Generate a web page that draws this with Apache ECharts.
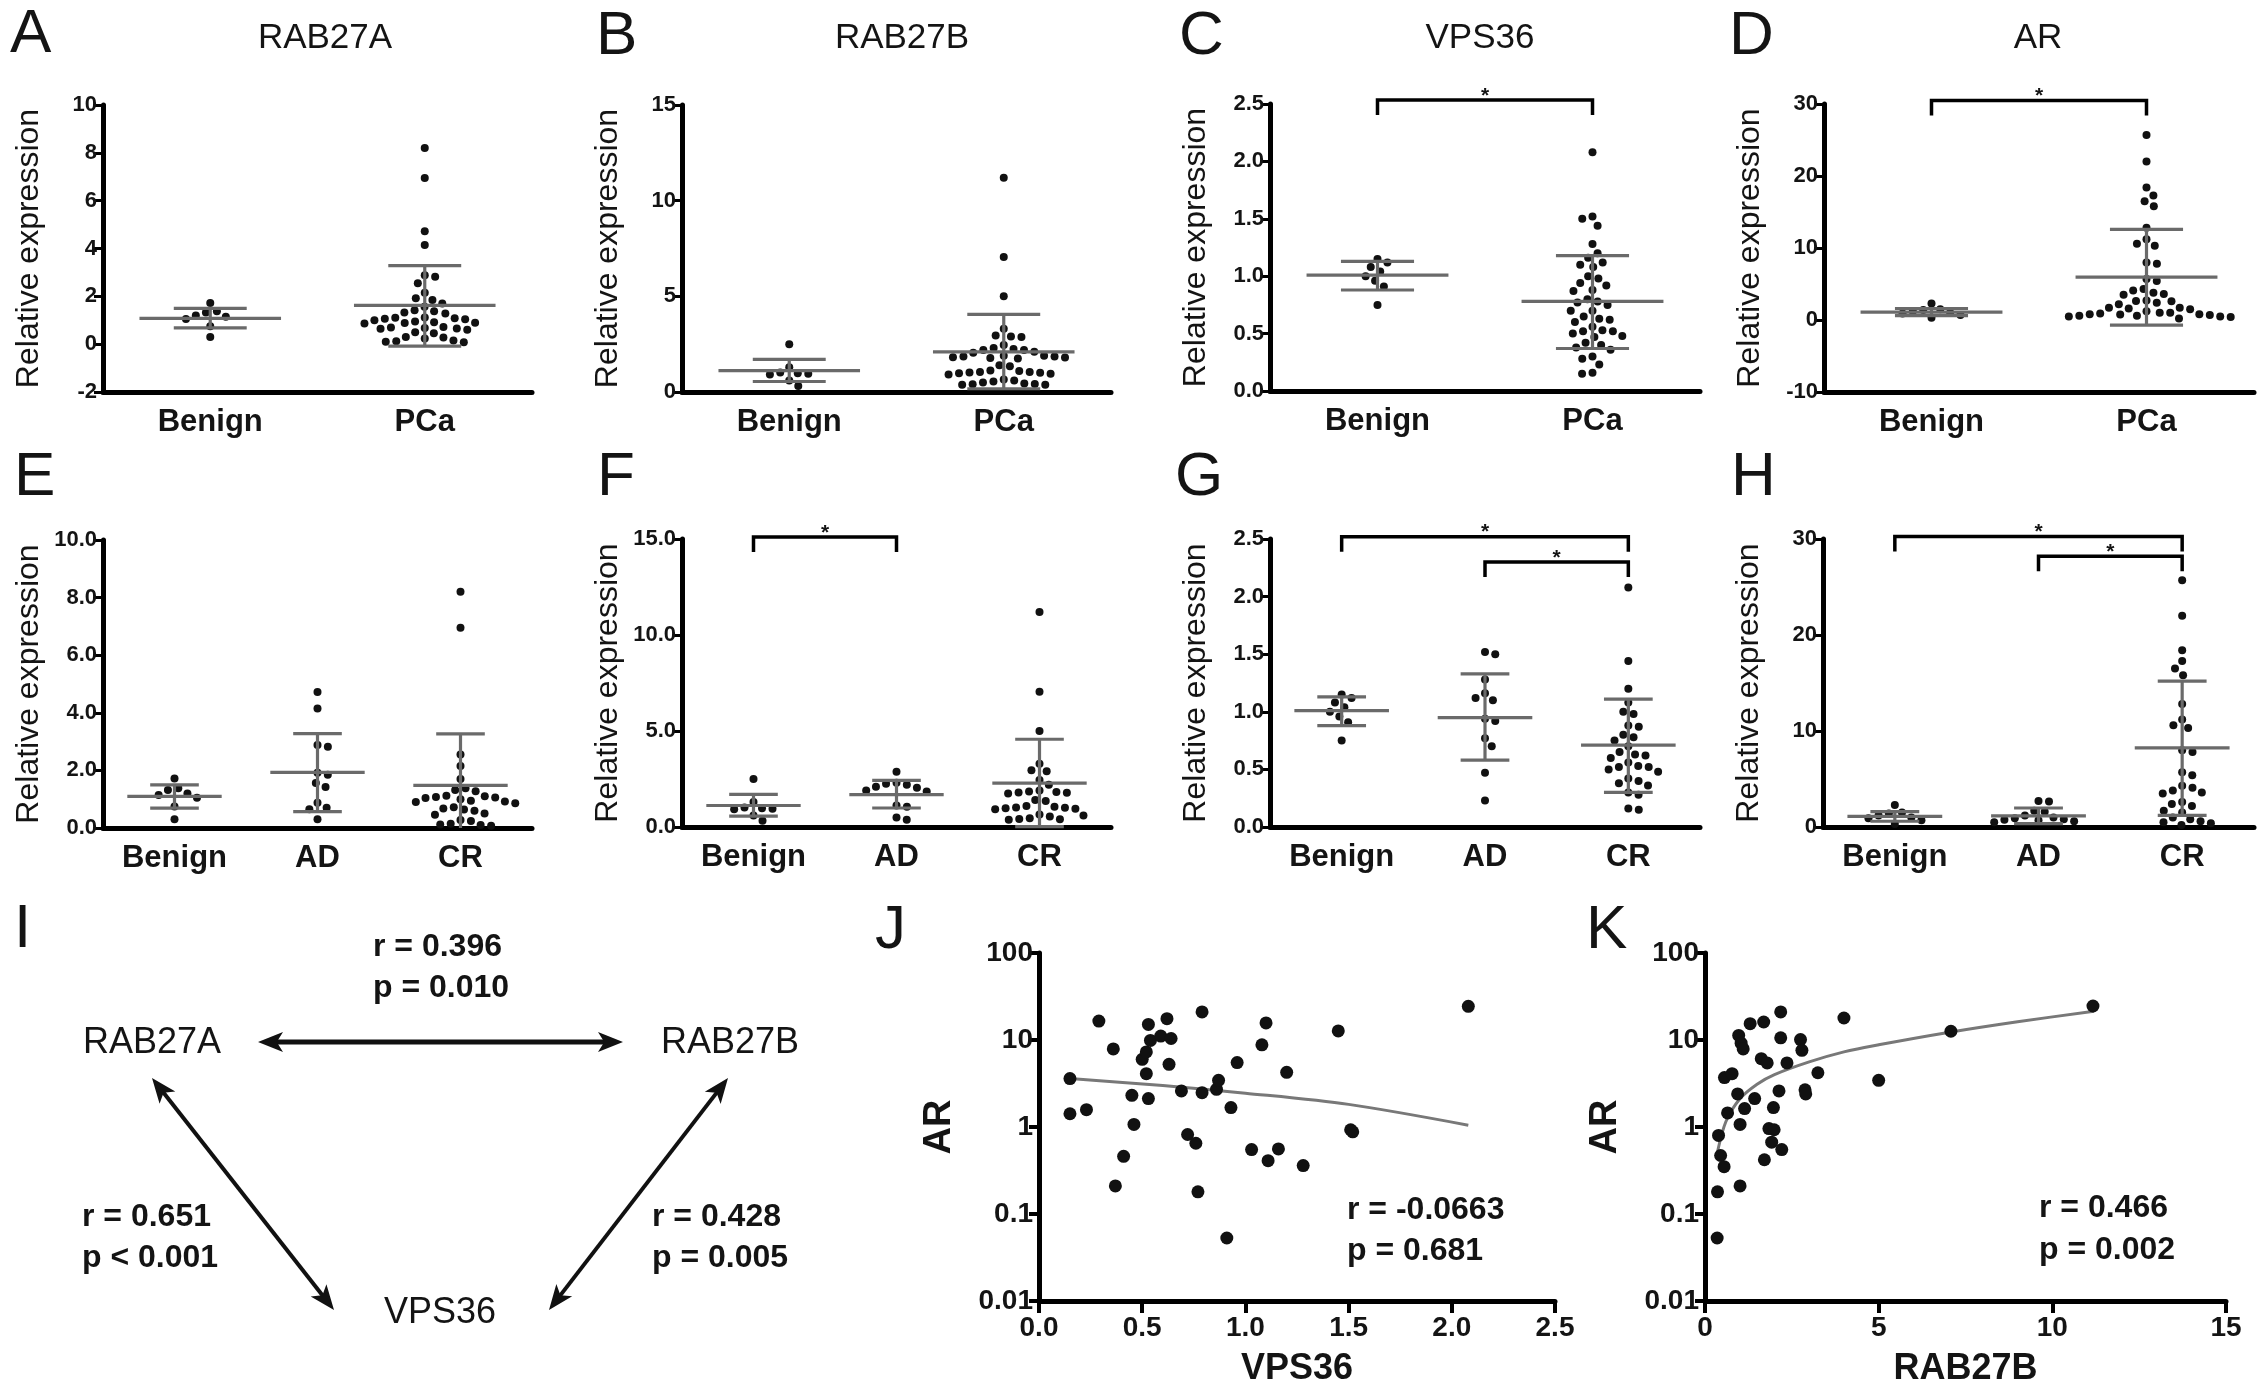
<!DOCTYPE html>
<html><head><meta charset="utf-8">
<script src="https://cdn.jsdelivr.net/npm/echarts@6/dist/echarts.min.js"></script>
<style>html,body{margin:0;padding:0;background:#fff}#c{width:2268px;height:1400px}</style>
</head><body><div id="c"></div><script>
// ---------------- DATA ----------------
const CAT2 = ['Benign', 'PCa'];
const CAT3 = ['Benign', 'AD', 'CR'];
const geneTitles = ['RAB27A', 'RAB27B', 'VPS36', 'AR'];
const panelLetters = ['A','B','C','D','E','F','G','H','I','J','K'];

const rab27aBenign = [1.72, 1.38, 1.32, 1.2, 1.15, 1.05, 0.75, 0.3];
const rab27aAD = [4.72, 4.15, 2.88, 2.82, 1.92, 1.85, 1.56, 1.42, 0.88, 0.7, 0.65, 0.3];
const rab27aCR = [8.2, 6.95, 2.55, 2.15, 1.7, 1.38, 1.32, 1.28, 1.12, 1.1, 1.08, 1.06, 1.04, 1.0, 0.95, 0.92, 0.9, 0.86, 0.72, 0.68, 0.64, 0.6, 0.5, 0.46, 0.28, 0.24, 0.15, 0.12, 0.1, 0.08];
const rab27aMean2 = [1.08, 1.62], rab27aLow2 = [0.68, -0.08], rab27aHigh2 = [1.5, 3.28];
const rab27aMean3 = [1.1, 1.93, 1.48], rab27aLow3 = [0.69, 0.57, -0.3], rab27aHigh3 = [1.5, 3.28, 3.27];

const rab27bBenign = [2.5, 1.3, 1.02, 0.98, 0.95, 0.92, 0.6, 0.32];
const rab27bAD = [2.88, 2.3, 2.25, 2.2, 2.1, 2.05, 1.9, 1.85, 1.12, 1.05, 0.5, 0.38];
const rab27bCR = [11.2, 7.05, 5.0, 3.3, 2.95, 2.9, 2.45, 2.2, 1.9, 1.85, 1.82, 1.8, 1.78, 1.75, 1.4, 1.35, 1.1, 1.05, 1.02, 1.0, 0.98, 0.95, 0.92, 0.65, 0.6, 0.55, 0.45, 0.42, 0.4, 0.38];
const rab27bMean2 = [1.12, 2.1], rab27bLow2 = [0.55, 0.17], rab27bHigh2 = [1.7, 4.06];
const rab27bMean3 = [1.12, 1.69, 2.29], rab27bLow3 = [0.57, 0.99, 0.02], rab27bHigh3 = [1.7, 2.43, 4.57];

const vps36Benign = [1.15, 1.12, 1.08, 1.04, 1.0, 0.96, 0.91, 0.75];
const vps36AD = [1.52, 1.5, 1.28, 1.16, 1.12, 1.1, 0.94, 0.92, 0.77, 0.7, 0.47, 0.23];
const vps36CR = [2.08, 1.44, 1.2, 1.08, 1.0, 0.98, 0.88, 0.87, 0.8, 0.78, 0.75, 0.7, 0.65, 0.63, 0.62, 0.6, 0.56, 0.53, 0.52, 0.52, 0.5, 0.48, 0.42, 0.4, 0.38, 0.36, 0.3, 0.28, 0.16, 0.15];
const vps36Mean2 = [1.01, 0.78], vps36Low2 = [0.88, 0.37], vps36High2 = [1.13, 1.18];
const vps36Mean3 = [1.01, 0.95, 0.71], vps36Low3 = [0.88, 0.58, 0.30], vps36High3 = [1.13, 1.33, 1.11];

const arBenign = [2.3, 1.5, 1.4, 1.2, 1.0, 0.9, 0.7, 0.3];
const arAD = [2.7, 2.65, 1.7, 1.6, 1.2, 1.0, 0.9, 0.8, 0.75, 0.7, 0.6, 0.5];
const arCR = [25.7, 22.0, 18.4, 17.3, 16.5, 15.8, 12.8, 11.2, 10.6, 10.3, 8.0, 7.8, 5.7, 5.4, 4.3, 4.1, 3.8, 3.6, 3.5, 2.6, 2.4, 2.2, 1.7, 1.5, 1.0, 0.8, 0.6, 0.5, 0.4, 0.2];
const arMean2 = [1.1, 5.95], arLow2 = [0.6, -0.7], arHigh2 = [1.6, 12.6];
const arMean3 = [1.1, 1.15, 8.25], arLow3 = [0.6, 0.35, 1.22], arHigh3 = [1.6, 1.98, 15.2];

// significance brackets: [group i, group j, level]
const vps36Sig2 = [[0, 1, 2.535]];
const arSig2 = [[0, 1, 30.5]];
const rab27bSig3 = [[0, 1, 15.1]];
const vps36Sig3 = [[0, 2, 2.52], [1, 2, 2.3]];
const arSig3 = [[0, 2, 30.25], [1, 2, 28.2]];

// y axis ticks: [min, max, interval, decimals]
const yTicksA = [-2, 10, 2, 0], yTicksB = [0, 15, 5, 0], yTicksC = [0, 2.5, 0.5, 1], yTicksD = [-10, 30, 10, 0];
const yTicksE = [0, 10, 2, 1], yTicksF = [0, 15, 5, 1], yTicksG = [0, 2.5, 0.5, 1], yTicksH = [0, 30, 10, 0];

// J: AR vs VPS36 ; K: AR vs RAB27B
const jVps36 = [0.15,0.15,0.23,0.29,0.36,0.37,0.41,0.45,0.46,0.5,0.52,0.52,0.53,0.53,0.54,0.59,0.62,0.64,0.63,0.69,0.72,0.76,0.77,0.79,0.79,0.86,0.87,0.91,0.93,0.96,1.03,1.08,1.1,1.11,1.16,1.2,1.28,1.45,1.51,1.52,2.08];
const jAR = [3.6,1.42,1.58,16.5,7.9,0.21,0.46,2.31,1.07,6.0,7.3,4.1,2.12,15.1,9.9,11.1,17.6,10.4,5.25,2.6,0.82,0.65,0.18,21,2.48,2.71,3.44,0.053,1.67,5.5,0.55,8.8,15.7,0.41,0.56,4.25,0.36,12.7,0.93,0.88,24.4];
const jFitX = [0.15, 0.6, 1.0, 1.5, 2.08];
const jFitY = [3.6, 3.0, 2.45, 1.82, 1.05];
const kRab27b = [0.35,0.36,0.39,0.45,0.55,0.56,0.65,0.78,0.94,0.97,1.01,1.01,1.04,1.1,1.14,1.3,1.43,1.62,1.69,1.71,1.79,1.84,1.92,1.97,1.99,2.13,2.18,2.18,2.21,2.36,2.75,2.79,2.88,2.9,3.25,4.0,5.0,7.08,11.17];
const kAR = [0.053,0.18,0.8,0.47,0.35,3.7,1.45,4.1,2.4,11.3,1.07,0.21,9.2,7.9,1.63,15.4,2.12,6.1,16.1,0.42,5.45,0.96,0.67,1.67,0.93,2.6,21,10.6,0.55,5.45,10.1,7.6,2.68,2.4,4.2,17.9,3.44,12.6,24.6];
const kFitX = [0.36, 0.6, 1.0, 1.5, 2.0, 3.0, 4.0, 5.0, 7.0, 9.0, 11.2];
const kFitY = [0.52, 1.15, 2.1, 3.1, 4.0, 5.6, 7.3, 8.8, 12.2, 16.2, 21.4];
const jXTicks = [0, 2.5, 0.5, 1], kXTicks = [0, 15, 5, 0];

// correlation network (panel I) and stats texts
const netNodes = ['RAB27A', 'RAB27B', 'VPS36'];
const netR = ['r = 0.396', 'r = 0.651', 'r = 0.428'];
const netP = ['p = 0.010', 'p < 0.001', 'p = 0.005'];
const jStats = ['r = -0.0663', 'p = 0.681'];
const kStats = ['r = 0.466', 'p = 0.002'];

// ---------------- LAYOUT / STYLE ----------------
const FONT = "'Liberation Sans', Arial, Helvetica, sans-serif";
const NARROW = "'Liberation Sans Narrow', 'Arial Narrow', 'Liberation Sans', Arial, sans-serif";
const INK = '#141414';
const BAR = '#6a6a6a';
const boxes = {
  A: [103, 105, 429, 287], B: [682, 105, 429, 287], C: [1270, 104, 430, 287], D: [1824, 104, 430, 288],
  E: [103, 540, 429, 288], F: [682, 539, 429, 288], G: [1270, 539, 430, 288], H: [1823, 539, 431, 288],
  J: [1039, 953, 516, 348], K: [1705, 953, 521, 348]
};

const dotPanels = [
  {key:'A', cats:CAT2, groups:[rab27aBenign, rab27aAD.concat(rab27aCR)], mean:rab27aMean2, lo:rab27aLow2, hi:rab27aHigh2, y:yTicksA, sig:[]},
  {key:'B', cats:CAT2, groups:[rab27bBenign, rab27bAD.concat(rab27bCR)], mean:rab27bMean2, lo:rab27bLow2, hi:rab27bHigh2, y:yTicksB, sig:[]},
  {key:'C', cats:CAT2, groups:[vps36Benign, vps36AD.concat(vps36CR)], mean:vps36Mean2, lo:vps36Low2, hi:vps36High2, y:yTicksC, sig:vps36Sig2},
  {key:'D', cats:CAT2, groups:[arBenign, arAD.concat(arCR)], mean:arMean2, lo:arLow2, hi:arHigh2, y:yTicksD, sig:arSig2},
  {key:'E', cats:CAT3, groups:[rab27aBenign, rab27aAD, rab27aCR], mean:rab27aMean3, lo:rab27aLow3, hi:rab27aHigh3, y:yTicksE, sig:[]},
  {key:'F', cats:CAT3, groups:[rab27bBenign, rab27bAD, rab27bCR], mean:rab27bMean3, lo:rab27bLow3, hi:rab27bHigh3, y:yTicksF, sig:rab27bSig3},
  {key:'G', cats:CAT3, groups:[vps36Benign, vps36AD, vps36CR], mean:vps36Mean3, lo:vps36Low3, hi:vps36High3, y:yTicksG, sig:vps36Sig3},
  {key:'H', cats:CAT3, groups:[arBenign, arAD, arCR], mean:arMean3, lo:arLow3, hi:arHigh3, y:yTicksH, sig:arSig3}
];

// beeswarm placement (layout only, values untouched)
function swarm(values, center, pxX, pxY, d) {
  const order = values.map((v, i) => i).sort((a, b) => values[b] - values[a]);
  const placed = [], out = [];
  let flip = 1;
  order.forEach(i => {
    const y = values[i] * pxY;
    const near = placed.filter(p => Math.abs(p.y - y) < d);
    const cands = [0];
    near.forEach(p => { const dx = Math.sqrt(d * d - (p.y - y) ** 2); cands.push(p.x + dx, p.x - dx); });
    cands.sort((a, b) => Math.abs(a) - Math.abs(b) || (flip * (a - b)));
    const x = cands.find(c => near.every(p => (p.x - c) ** 2 + (p.y - y) ** 2 >= d * d - 0.01));
    flip = -flip;
    placed.push({x, y});
    out.push([center + x / pxX, values[i]]);
  });
  return out;
}

function meanSd(ymin) {
  return function (params, api) {
    const x = api.value(0), m = api.value(1), rawLo = api.value(2), hi = api.value(3);
    const lo = Math.max(rawLo, ymin);
    const P = (a, b) => api.coord([a, b]);
    const st = {stroke: BAR, lineWidth: 3.2};
    const seg = (a, b) => ({type: 'line', shape: {x1: a[0], y1: a[1], x2: b[0], y2: b[1]}, style: st});
    const ch = [seg(P(x - 0.33, m), P(x + 0.33, m)), seg(P(x, lo), P(x, hi)), seg(P(x - 0.17, hi), P(x + 0.17, hi))];
    if (rawLo >= ymin) ch.push(seg(P(x - 0.17, lo), P(x + 0.17, lo)));
    return {type: 'group', children: ch};
  };
}
function bracket(params, api) {
  const a = api.coord([api.value(0) + 0.5, api.value(2)]);
  const b = api.coord([api.value(1) + 0.5, api.value(2)]);
  const drop = 15;
  return {type: 'group', children: [
    {type: 'polyline', shape: {points: [[a[0], a[1] + drop], [a[0], a[1]], [b[0], b[1]], [b[0], b[1] + drop]]},
     style: {stroke: '#000', lineWidth: 3.5, fill: null}},
    {type: 'text', style: {text: '*', x: (a[0] + b[0]) / 2, y: a[1] - 4, align: 'center', verticalAlign: 'middle',
     font: 'bold 21px ' + FONT, fill: INK}}
  ]};
}

const grid = [], xAxis = [], yAxis = [], series = [];
dotPanels.forEach((p, gi) => {
  const [l, t, w, h] = boxes[p.key];
  const n = p.cats.length;
  grid.push({left: l, top: t, width: w, height: h});
  xAxis.push({gridIndex: gi, type: 'category', data: p.cats, boundaryGap: true, position: 'bottom',
    axisLine: {onZero: false, lineStyle: {color: '#000', width: 5}},
    axisTick: {alignWithLabel: true, length: 13, lineStyle: {color: '#000', width: 4}},
    axisLabel: {fontFamily: FONT, fontSize: 31, fontWeight: 'bold', color: INK, margin: 15},
    splitLine: {show: false}});
  const vx = xAxis.length;
  xAxis.push({gridIndex: gi, type: 'value', min: 0, max: n, show: false});
  yAxis.push({gridIndex: gi, type: 'value', min: p.y[0], max: p.y[1], interval: p.y[2],
    axisLine: {show: true, onZero: false, lineStyle: {color: '#000', width: 5}},
    axisTick: {show: true, length: 9, lineStyle: {color: '#000', width: 3}},
    axisLabel: {fontFamily: NARROW, fontWeight: 'bold', fontSize: 22, color: INK, margin: 6,
      formatter: v => Number(v).toFixed(p.y[3])},
    splitLine: {show: false},
    name: 'Relative expression', nameLocation: 'middle', nameGap: 58,
    nameTextStyle: {fontFamily: FONT, fontSize: 32, color: INK}});
  const pxX = w / n, pxY = h / (p.y[1] - p.y[0]);
  let pts = [];
  p.groups.forEach((g, i) => { pts = pts.concat(swarm(g, i + 0.5, pxX, pxY, 10.5)); });
  series.push({type: 'scatter', xAxisIndex: vx, yAxisIndex: gi, symbolSize: 8, itemStyle: {color: '#111', opacity: 1},
    data: pts, z: 2, silent: true});
  series.push({type: 'custom', xAxisIndex: vx, yAxisIndex: gi, z: 3, silent: true,
    data: p.mean.map((m, i) => [i + 0.5, m, p.lo[i], p.hi[i]]), renderItem: meanSd(p.y[0])});
  if (p.sig.length) series.push({type: 'custom', xAxisIndex: vx, yAxisIndex: gi, z: 4, silent: true,
    data: p.sig, renderItem: bracket, encode: {x: [0, 1], y: 2}});
});

// scatter panels J and K
[['J', jVps36, jAR, jFitX, jFitY, jXTicks, 'VPS36'], ['K', kRab27b, kAR, kFitX, kFitY, kXTicks, 'RAB27B']].forEach(s => {
  const gi = grid.length;
  const [l, t, w, h] = boxes[s[0]];
  grid.push({left: l, top: t, width: w, height: h});
  const xi = xAxis.length;
  xAxis.push({gridIndex: gi, type: 'value', min: s[5][0], max: s[5][1], interval: s[5][2],
    axisLine: {onZero: false, lineStyle: {color: '#000', width: 5}},
    axisTick: {length: 12, lineStyle: {color: '#000', width: 4}},
    axisLabel: {fontFamily: NARROW, fontWeight: 'bold', fontSize: 28, color: INK, margin: 13,
      formatter: v => Number(v).toFixed(s[5][3])},
    splitLine: {show: false},
    name: s[6], nameLocation: 'middle', nameGap: 50,
    nameTextStyle: {fontFamily: FONT, fontWeight: 'bold', fontSize: 36, color: INK}});
  yAxis.push({gridIndex: gi, type: 'log', logBase: 10, min: 0.01, max: 100,
    axisLine: {show: true, onZero: false, lineStyle: {color: '#000', width: 5}},
    axisTick: {show: true, length: 10, lineStyle: {color: '#000', width: 4}},
    axisLabel: {fontFamily: NARROW, fontWeight: 'bold', fontSize: 28, color: INK, margin: 6,
      formatter: v => String(+Number(v).toPrecision(3))},
    minorTick: {show: false}, splitLine: {show: false},
    name: 'AR', nameLocation: 'middle', nameGap: 80,
    nameTextStyle: {fontFamily: FONT, fontWeight: 'bold', fontSize: 38, color: INK}});
  series.push({type: 'line', xAxisIndex: xi, yAxisIndex: gi, data: s[3].map((x, i) => [x, s[4][i]]),
    smooth: 0.3, symbol: 'none', lineStyle: {color: '#787878', width: 3}, z: 2, silent: true});
  series.push({type: 'scatter', xAxisIndex: xi, yAxisIndex: gi, data: s[1].map((x, i) => [x, s[2][i]]),
    symbolSize: 13, itemStyle: {color: '#111', opacity: 1}, z: 3, silent: true});
});

// ---------------- TEXT & DIAGRAM ----------------
const graphic = [];
const txt = (text, x, y, size, opt) => graphic.push({type: 'text', x, y, silent: true, style: Object.assign({
  text, fill: INK, font: size + 'px ' + FONT, align: 'left', verticalAlign: 'middle'}, opt || {})});
const letterPos = [[10,35],[596,37],[1179,37],[1729,37],[14,478],[597,478],[1175,478],[1731,478],[14,930],[875,931],[1586,931]];
panelLetters.forEach((L, i) => txt(L, letterPos[i][0], letterPos[i][1], 62));
const titleX = [325, 902, 1480, 2038];
geneTitles.forEach((g, i) => txt(g, titleX[i], 38, 35, {align: 'center'}));

const boldN = s => 'bold ' + s + 'px ' + NARROW;
// panel I
txt(netNodes[0], 152, 1043, 36, {align: 'center'});
txt(netNodes[1], 730, 1043, 36, {align: 'center'});
txt(netNodes[2], 440, 1313, 36, {align: 'center'});
const rpPos = [[373, 947], [82, 1217], [652, 1217]];
netR.forEach((r, i) => {
  txt(r, rpPos[i][0], rpPos[i][1], 32, {font: boldN(32)});
  txt(netP[i], rpPos[i][0], rpPos[i][1] + 41, 32, {font: boldN(32)});
});
txt(jStats[0], 1347, 1210, 32, {font: boldN(32)});
txt(jStats[1], 1347, 1251, 32, {font: boldN(32)});
txt(kStats[0], 2039, 1208, 32, {font: boldN(32)});
txt(kStats[1], 2039, 1250, 32, {font: boldN(32)});

function arrow(x1, y1, x2, y2, lw) {
  const dx = x2 - x1, dy = y2 - y1, len = Math.hypot(dx, dy), ux = dx / len, uy = dy / len, px = -uy, py = ux;
  const L = 25, W = 10;
  const head = (tx, ty, sx) => ({type: 'polygon', silent: true, shape: {points: [[tx, ty],
    [tx - sx * ux * L + px * W, ty - sx * uy * L + py * W],
    [tx - sx * ux * L * 0.75, ty - sx * uy * L * 0.75],
    [tx - sx * ux * L - px * W, ty - sx * uy * L - py * W]]}, style: {fill: '#111'}});
  graphic.push({type: 'line', silent: true, shape: {x1: x1 + ux * L * 0.6, y1: y1 + uy * L * 0.6, x2: x2 - ux * L * 0.6, y2: y2 - uy * L * 0.6},
    style: {stroke: '#111', lineWidth: lw}});
  graphic.push(head(x2, y2, 1), head(x1, y1, -1));
}
arrow(258, 1042, 623, 1042, 5);
arrow(152, 1078, 334, 1310, 4);
arrow(728, 1078, 549, 1310, 4);

const chart = echarts.init(document.getElementById('c'));
chart.setOption({
  animation: false, backgroundColor: '#fff',
  textStyle: {fontFamily: FONT},
  grid, xAxis, yAxis, series, graphic
});
</script></body></html>
